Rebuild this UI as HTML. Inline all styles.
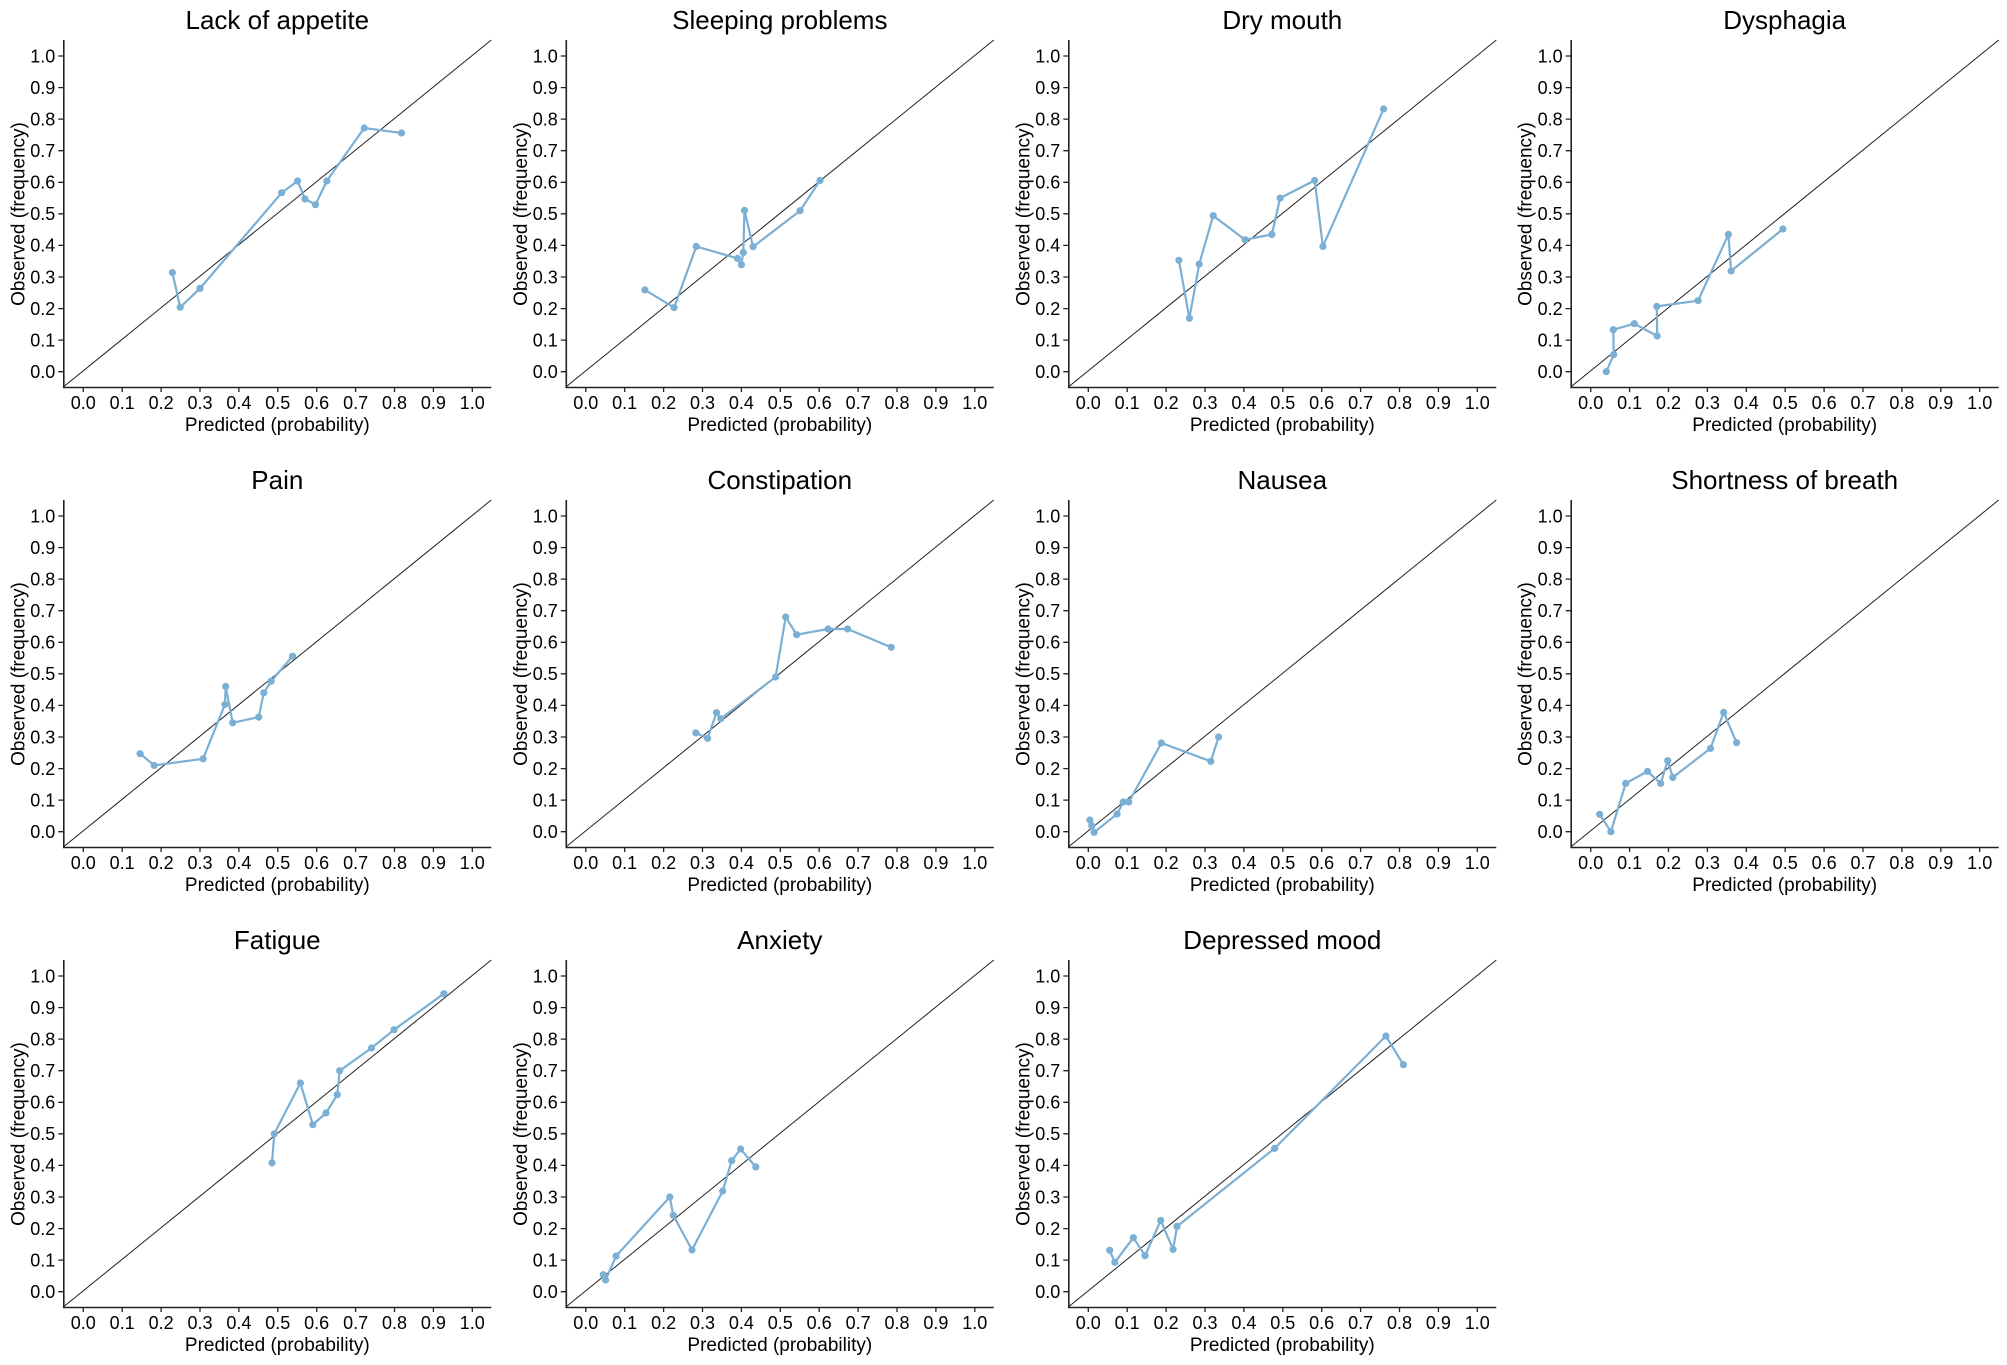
<!DOCTYPE html>
<html><head><meta charset="utf-8"><style>
html,body{margin:0;padding:0;background:#fff;}
svg{display:block;}
text{font-family:"Liberation Sans",Arial,sans-serif;fill:#000;}
.yt{font-size:18px;text-anchor:end;}
.xt{font-size:18px;text-anchor:middle;}
.xl{font-size:19px;text-anchor:middle;}
.ti{font-size:26px;text-anchor:middle;}
.s{fill:none;stroke:#7bafd4;stroke-width:2.2;stroke-linejoin:round;}
.p circle{fill:#7bafd4;}
</style></head><body>
<svg width="2007" height="1365" viewBox="0 0 2007 1365" xmlns="http://www.w3.org/2000/svg">
<defs>
<g id="ax">
<path d="M0.5,-347 V0.5 H428" fill="none" stroke="#222" stroke-width="1.6"/>
<path d="M0,0 L428,-347" stroke="#222" stroke-width="1" fill="none"/>
<path d="M-5,-15.3H0M-5,-46.9H0M-5,-78.4H0M-5,-110H0M-5,-141.6H0M-5,-173.2H0M-5,-204.7H0M-5,-236.3H0M-5,-267.9H0M-5,-299.4H0M-5,-331H0M20,0V5M58.9,0V5M97.8,0V5M136.7,0V5M175.6,0V5M214.5,0V5M253.4,0V5M292.3,0V5M331.2,0V5M370.1,0V5M409,0V5" stroke="#222" stroke-width="1.3"/>
</g>
</defs>

<!-- Panel 1 -->
<g transform="translate(63.3,387)">
<use href="#ax"/>
<text class="ti" x="214" y="-358">Lack of appetite</text>
<text class="yt"><tspan x="-8" y="-9">0.0</tspan><tspan x="-8" y="-40.6">0.1</tspan><tspan x="-8" y="-72.1">0.2</tspan><tspan x="-8" y="-103.7">0.3</tspan><tspan x="-8" y="-135.3">0.4</tspan><tspan x="-8" y="-166.9">0.5</tspan><tspan x="-8" y="-198.4">0.6</tspan><tspan x="-8" y="-230">0.7</tspan><tspan x="-8" y="-261.6">0.8</tspan><tspan x="-8" y="-293.1">0.9</tspan><tspan x="-8" y="-324.7">1.0</tspan></text>
<text class="xt"><tspan x="20" y="22">0.0</tspan><tspan x="58.9" y="22">0.1</tspan><tspan x="97.8" y="22">0.2</tspan><tspan x="136.7" y="22">0.3</tspan><tspan x="175.6" y="22">0.4</tspan><tspan x="214.5" y="22">0.5</tspan><tspan x="253.4" y="22">0.6</tspan><tspan x="292.3" y="22">0.7</tspan><tspan x="331.2" y="22">0.8</tspan><tspan x="370.1" y="22">0.9</tspan><tspan x="409" y="22">1.0</tspan></text>
<text class="xl" x="214" y="44">Predicted (probability)</text>
<text class="xl" transform="translate(-39,-173) rotate(-90)">Observed (frequency)</text>
<polyline class="s" points="109.1,-114.4 116.9,-79.7 136.7,-98.6 218.4,-194.3 234.3,-206 241.7,-188 252.2,-182.3 263.5,-206 300.9,-259 338.2,-254"/>
<g class="p"><circle cx="109.1" cy="-114.4" r="3.6"/><circle cx="116.9" cy="-79.7" r="3.6"/><circle cx="136.7" cy="-98.6" r="3.6"/><circle cx="218.4" cy="-194.3" r="3.6"/><circle cx="234.3" cy="-206" r="3.6"/><circle cx="241.7" cy="-188" r="3.6"/><circle cx="252.2" cy="-182.3" r="3.6"/><circle cx="263.5" cy="-206" r="3.6"/><circle cx="300.9" cy="-259" r="3.6"/><circle cx="338.2" cy="-254" r="3.6"/></g>
</g>

<!-- Panel 2 -->
<g transform="translate(565.8,387)">
<use href="#ax"/>
<text class="ti" x="214" y="-358">Sleeping problems</text>
<text class="yt"><tspan x="-8" y="-9">0.0</tspan><tspan x="-8" y="-40.6">0.1</tspan><tspan x="-8" y="-72.1">0.2</tspan><tspan x="-8" y="-103.7">0.3</tspan><tspan x="-8" y="-135.3">0.4</tspan><tspan x="-8" y="-166.9">0.5</tspan><tspan x="-8" y="-198.4">0.6</tspan><tspan x="-8" y="-230">0.7</tspan><tspan x="-8" y="-261.6">0.8</tspan><tspan x="-8" y="-293.1">0.9</tspan><tspan x="-8" y="-324.7">1.0</tspan></text>
<text class="xt"><tspan x="20" y="22">0.0</tspan><tspan x="58.9" y="22">0.1</tspan><tspan x="97.8" y="22">0.2</tspan><tspan x="136.7" y="22">0.3</tspan><tspan x="175.6" y="22">0.4</tspan><tspan x="214.5" y="22">0.5</tspan><tspan x="253.4" y="22">0.6</tspan><tspan x="292.3" y="22">0.7</tspan><tspan x="331.2" y="22">0.8</tspan><tspan x="370.1" y="22">0.9</tspan><tspan x="409" y="22">1.0</tspan></text>
<text class="xl" x="214" y="44">Predicted (probability)</text>
<text class="xl" transform="translate(-39,-173) rotate(-90)">Observed (frequency)</text>
<polyline class="s" points="79.1,-97.1 108.3,-79.4 130.5,-140.6 171.7,-128.6 175.6,-122.3 177.5,-134.6 178.7,-176.6 187.3,-140.3 234.3,-176.3 254.2,-206.6"/>
<g class="p"><circle cx="79.1" cy="-97.1" r="3.6"/><circle cx="108.3" cy="-79.4" r="3.6"/><circle cx="130.5" cy="-140.6" r="3.6"/><circle cx="171.7" cy="-128.6" r="3.6"/><circle cx="175.6" cy="-122.3" r="3.6"/><circle cx="177.5" cy="-134.6" r="3.6"/><circle cx="178.7" cy="-176.6" r="3.6"/><circle cx="187.3" cy="-140.3" r="3.6"/><circle cx="234.3" cy="-176.3" r="3.6"/><circle cx="254.2" cy="-206.6" r="3.6"/></g>
</g>

<!-- Panel 3 -->
<g transform="translate(1068.3,387)">
<use href="#ax"/>
<text class="ti" x="214" y="-358">Dry mouth</text>
<text class="yt"><tspan x="-8" y="-9">0.0</tspan><tspan x="-8" y="-40.6">0.1</tspan><tspan x="-8" y="-72.1">0.2</tspan><tspan x="-8" y="-103.7">0.3</tspan><tspan x="-8" y="-135.3">0.4</tspan><tspan x="-8" y="-166.9">0.5</tspan><tspan x="-8" y="-198.4">0.6</tspan><tspan x="-8" y="-230">0.7</tspan><tspan x="-8" y="-261.6">0.8</tspan><tspan x="-8" y="-293.1">0.9</tspan><tspan x="-8" y="-324.7">1.0</tspan></text>
<text class="xt"><tspan x="20" y="22">0.0</tspan><tspan x="58.9" y="22">0.1</tspan><tspan x="97.8" y="22">0.2</tspan><tspan x="136.7" y="22">0.3</tspan><tspan x="175.6" y="22">0.4</tspan><tspan x="214.5" y="22">0.5</tspan><tspan x="253.4" y="22">0.6</tspan><tspan x="292.3" y="22">0.7</tspan><tspan x="331.2" y="22">0.8</tspan><tspan x="370.1" y="22">0.9</tspan><tspan x="409" y="22">1.0</tspan></text>
<text class="xl" x="214" y="44">Predicted (probability)</text>
<text class="xl" transform="translate(-39,-173) rotate(-90)">Observed (frequency)</text>
<polyline class="s" points="110.6,-126.7 121.1,-68.7 130.9,-122.9 144.9,-171.3 176.8,-147.3 203.6,-152.6 211.8,-188.9 246.4,-206.6 254.6,-140.6 315.3,-278"/>
<g class="p"><circle cx="110.6" cy="-126.7" r="3.6"/><circle cx="121.1" cy="-68.7" r="3.6"/><circle cx="130.9" cy="-122.9" r="3.6"/><circle cx="144.9" cy="-171.3" r="3.6"/><circle cx="176.8" cy="-147.3" r="3.6"/><circle cx="203.6" cy="-152.6" r="3.6"/><circle cx="211.8" cy="-188.9" r="3.6"/><circle cx="246.4" cy="-206.6" r="3.6"/><circle cx="254.6" cy="-140.6" r="3.6"/><circle cx="315.3" cy="-278" r="3.6"/></g>
</g>

<!-- Panel 4 -->
<g transform="translate(1570.7,387)">
<use href="#ax"/>
<text class="ti" x="214" y="-358">Dysphagia</text>
<text class="yt"><tspan x="-8" y="-9">0.0</tspan><tspan x="-8" y="-40.6">0.1</tspan><tspan x="-8" y="-72.1">0.2</tspan><tspan x="-8" y="-103.7">0.3</tspan><tspan x="-8" y="-135.3">0.4</tspan><tspan x="-8" y="-166.9">0.5</tspan><tspan x="-8" y="-198.4">0.6</tspan><tspan x="-8" y="-230">0.7</tspan><tspan x="-8" y="-261.6">0.8</tspan><tspan x="-8" y="-293.1">0.9</tspan><tspan x="-8" y="-324.7">1.0</tspan></text>
<text class="xt"><tspan x="20" y="22">0.0</tspan><tspan x="58.9" y="22">0.1</tspan><tspan x="97.8" y="22">0.2</tspan><tspan x="136.7" y="22">0.3</tspan><tspan x="175.6" y="22">0.4</tspan><tspan x="214.5" y="22">0.5</tspan><tspan x="253.4" y="22">0.6</tspan><tspan x="292.3" y="22">0.7</tspan><tspan x="331.2" y="22">0.8</tspan><tspan x="370.1" y="22">0.9</tspan><tspan x="409" y="22">1.0</tspan></text>
<text class="xl" x="214" y="44">Predicted (probability)</text>
<text class="xl" transform="translate(-39,-173) rotate(-90)">Observed (frequency)</text>
<polyline class="s" points="35.6,-15.3 43,-32.3 42.6,-57.3 63.6,-63.3 86.5,-51 86.1,-80.6 127.4,-86.3 157.7,-152.6 160.4,-116 212.2,-158"/>
<g class="p"><circle cx="35.6" cy="-15.3" r="3.6"/><circle cx="43" cy="-32.3" r="3.6"/><circle cx="42.6" cy="-57.3" r="3.6"/><circle cx="63.6" cy="-63.3" r="3.6"/><circle cx="86.5" cy="-51" r="3.6"/><circle cx="86.1" cy="-80.6" r="3.6"/><circle cx="127.4" cy="-86.3" r="3.6"/><circle cx="157.7" cy="-152.6" r="3.6"/><circle cx="160.4" cy="-116" r="3.6"/><circle cx="212.2" cy="-158" r="3.6"/></g>
</g>

<!-- Panel 5 -->
<g transform="translate(63.3,847)">
<use href="#ax"/>
<text class="ti" x="214" y="-358">Pain</text>
<text class="yt"><tspan x="-8" y="-9">0.0</tspan><tspan x="-8" y="-40.6">0.1</tspan><tspan x="-8" y="-72.1">0.2</tspan><tspan x="-8" y="-103.7">0.3</tspan><tspan x="-8" y="-135.3">0.4</tspan><tspan x="-8" y="-166.9">0.5</tspan><tspan x="-8" y="-198.4">0.6</tspan><tspan x="-8" y="-230">0.7</tspan><tspan x="-8" y="-261.6">0.8</tspan><tspan x="-8" y="-293.1">0.9</tspan><tspan x="-8" y="-324.7">1.0</tspan></text>
<text class="xt"><tspan x="20" y="22">0.0</tspan><tspan x="58.9" y="22">0.1</tspan><tspan x="97.8" y="22">0.2</tspan><tspan x="136.7" y="22">0.3</tspan><tspan x="175.6" y="22">0.4</tspan><tspan x="214.5" y="22">0.5</tspan><tspan x="253.4" y="22">0.6</tspan><tspan x="292.3" y="22">0.7</tspan><tspan x="331.2" y="22">0.8</tspan><tspan x="370.1" y="22">0.9</tspan><tspan x="409" y="22">1.0</tspan></text>
<text class="xl" x="214" y="44">Predicted (probability)</text>
<text class="xl" transform="translate(-39,-173) rotate(-90)">Observed (frequency)</text>
<polyline class="s" points="76.8,-93.3 90.8,-81.6 139.8,-88.2 161.6,-142.5 162.4,-160.5 169.4,-124.2 195.4,-129.9 200.5,-154.2 207.9,-165.9 229.3,-190.8"/>
<g class="p"><circle cx="76.8" cy="-93.3" r="3.6"/><circle cx="90.8" cy="-81.6" r="3.6"/><circle cx="139.8" cy="-88.2" r="3.6"/><circle cx="161.6" cy="-142.5" r="3.6"/><circle cx="162.4" cy="-160.5" r="3.6"/><circle cx="169.4" cy="-124.2" r="3.6"/><circle cx="195.4" cy="-129.9" r="3.6"/><circle cx="200.5" cy="-154.2" r="3.6"/><circle cx="207.9" cy="-165.9" r="3.6"/><circle cx="229.3" cy="-190.8" r="3.6"/></g>
</g>

<!-- Panel 6 -->
<g transform="translate(565.8,847)">
<use href="#ax"/>
<text class="ti" x="214" y="-358">Constipation</text>
<text class="yt"><tspan x="-8" y="-9">0.0</tspan><tspan x="-8" y="-40.6">0.1</tspan><tspan x="-8" y="-72.1">0.2</tspan><tspan x="-8" y="-103.7">0.3</tspan><tspan x="-8" y="-135.3">0.4</tspan><tspan x="-8" y="-166.9">0.5</tspan><tspan x="-8" y="-198.4">0.6</tspan><tspan x="-8" y="-230">0.7</tspan><tspan x="-8" y="-261.6">0.8</tspan><tspan x="-8" y="-293.1">0.9</tspan><tspan x="-8" y="-324.7">1.0</tspan></text>
<text class="xt"><tspan x="20" y="22">0.0</tspan><tspan x="58.9" y="22">0.1</tspan><tspan x="97.8" y="22">0.2</tspan><tspan x="136.7" y="22">0.3</tspan><tspan x="175.6" y="22">0.4</tspan><tspan x="214.5" y="22">0.5</tspan><tspan x="253.4" y="22">0.6</tspan><tspan x="292.3" y="22">0.7</tspan><tspan x="331.2" y="22">0.8</tspan><tspan x="370.1" y="22">0.9</tspan><tspan x="409" y="22">1.0</tspan></text>
<text class="xl" x="214" y="44">Predicted (probability)</text>
<text class="xl" transform="translate(-39,-173) rotate(-90)">Observed (frequency)</text>
<polyline class="s" points="130.1,-114.1 141.8,-108.7 150.7,-134.3 155,-128.3 209.8,-170 219.9,-230 230.8,-212.3 262.3,-218 281.8,-218 325.4,-199.7"/>
<g class="p"><circle cx="130.1" cy="-114.1" r="3.6"/><circle cx="141.8" cy="-108.7" r="3.6"/><circle cx="150.7" cy="-134.3" r="3.6"/><circle cx="155" cy="-128.3" r="3.6"/><circle cx="209.8" cy="-170" r="3.6"/><circle cx="219.9" cy="-230" r="3.6"/><circle cx="230.8" cy="-212.3" r="3.6"/><circle cx="262.3" cy="-218" r="3.6"/><circle cx="281.8" cy="-218" r="3.6"/><circle cx="325.4" cy="-199.7" r="3.6"/></g>
</g>

<!-- Panel 7 -->
<g transform="translate(1068.3,847)">
<use href="#ax"/>
<text class="ti" x="214" y="-358">Nausea</text>
<text class="yt"><tspan x="-8" y="-9">0.0</tspan><tspan x="-8" y="-40.6">0.1</tspan><tspan x="-8" y="-72.1">0.2</tspan><tspan x="-8" y="-103.7">0.3</tspan><tspan x="-8" y="-135.3">0.4</tspan><tspan x="-8" y="-166.9">0.5</tspan><tspan x="-8" y="-198.4">0.6</tspan><tspan x="-8" y="-230">0.7</tspan><tspan x="-8" y="-261.6">0.8</tspan><tspan x="-8" y="-293.1">0.9</tspan><tspan x="-8" y="-324.7">1.0</tspan></text>
<text class="xt"><tspan x="20" y="22">0.0</tspan><tspan x="58.9" y="22">0.1</tspan><tspan x="97.8" y="22">0.2</tspan><tspan x="136.7" y="22">0.3</tspan><tspan x="175.6" y="22">0.4</tspan><tspan x="214.5" y="22">0.5</tspan><tspan x="253.4" y="22">0.6</tspan><tspan x="292.3" y="22">0.7</tspan><tspan x="331.2" y="22">0.8</tspan><tspan x="370.1" y="22">0.9</tspan><tspan x="409" y="22">1.0</tspan></text>
<text class="xl" x="214" y="44">Predicted (probability)</text>
<text class="xl" transform="translate(-39,-173) rotate(-90)">Observed (frequency)</text>
<polyline class="s" points="21.6,-27 23.5,-21.3 25.8,-14.7 48.8,-33 55,-45 60.5,-45 93.1,-104 142.5,-85.7 150.3,-110"/>
<g class="p"><circle cx="21.6" cy="-27" r="3.6"/><circle cx="23.5" cy="-21.3" r="3.6"/><circle cx="25.8" cy="-14.7" r="3.6"/><circle cx="48.8" cy="-33" r="3.6"/><circle cx="55" cy="-45" r="3.6"/><circle cx="60.5" cy="-45" r="3.6"/><circle cx="93.1" cy="-104" r="3.6"/><circle cx="142.5" cy="-85.7" r="3.6"/><circle cx="150.3" cy="-110" r="3.6"/></g>
</g>

<!-- Panel 8 -->
<g transform="translate(1570.7,847)">
<use href="#ax"/>
<text class="ti" x="214" y="-358">Shortness of breath</text>
<text class="yt"><tspan x="-8" y="-9">0.0</tspan><tspan x="-8" y="-40.6">0.1</tspan><tspan x="-8" y="-72.1">0.2</tspan><tspan x="-8" y="-103.7">0.3</tspan><tspan x="-8" y="-135.3">0.4</tspan><tspan x="-8" y="-166.9">0.5</tspan><tspan x="-8" y="-198.4">0.6</tspan><tspan x="-8" y="-230">0.7</tspan><tspan x="-8" y="-261.6">0.8</tspan><tspan x="-8" y="-293.1">0.9</tspan><tspan x="-8" y="-324.7">1.0</tspan></text>
<text class="xt"><tspan x="20" y="22">0.0</tspan><tspan x="58.9" y="22">0.1</tspan><tspan x="97.8" y="22">0.2</tspan><tspan x="136.7" y="22">0.3</tspan><tspan x="175.6" y="22">0.4</tspan><tspan x="214.5" y="22">0.5</tspan><tspan x="253.4" y="22">0.6</tspan><tspan x="292.3" y="22">0.7</tspan><tspan x="331.2" y="22">0.8</tspan><tspan x="370.1" y="22">0.9</tspan><tspan x="409" y="22">1.0</tspan></text>
<text class="xl" x="214" y="44">Predicted (probability)</text>
<text class="xl" transform="translate(-39,-173) rotate(-90)">Observed (frequency)</text>
<polyline class="s" points="28.9,-32.7 40.2,-15.3 55,-63.6 76.8,-75.6 90,-63.6 97,-86.3 102.1,-69.6 139.8,-98.6 153,-134.6 165.9,-104.3"/>
<g class="p"><circle cx="28.9" cy="-32.7" r="3.6"/><circle cx="40.2" cy="-15.3" r="3.6"/><circle cx="55" cy="-63.6" r="3.6"/><circle cx="76.8" cy="-75.6" r="3.6"/><circle cx="90" cy="-63.6" r="3.6"/><circle cx="97" cy="-86.3" r="3.6"/><circle cx="102.1" cy="-69.6" r="3.6"/><circle cx="139.8" cy="-98.6" r="3.6"/><circle cx="153" cy="-134.6" r="3.6"/><circle cx="165.9" cy="-104.3" r="3.6"/></g>
</g>

<!-- Panel 9 -->
<g transform="translate(63.3,1307)">
<use href="#ax"/>
<text class="ti" x="214" y="-358">Fatigue</text>
<text class="yt"><tspan x="-8" y="-9">0.0</tspan><tspan x="-8" y="-40.6">0.1</tspan><tspan x="-8" y="-72.1">0.2</tspan><tspan x="-8" y="-103.7">0.3</tspan><tspan x="-8" y="-135.3">0.4</tspan><tspan x="-8" y="-166.9">0.5</tspan><tspan x="-8" y="-198.4">0.6</tspan><tspan x="-8" y="-230">0.7</tspan><tspan x="-8" y="-261.6">0.8</tspan><tspan x="-8" y="-293.1">0.9</tspan><tspan x="-8" y="-324.7">1.0</tspan></text>
<text class="xt"><tspan x="20" y="22">0.0</tspan><tspan x="58.9" y="22">0.1</tspan><tspan x="97.8" y="22">0.2</tspan><tspan x="136.7" y="22">0.3</tspan><tspan x="175.6" y="22">0.4</tspan><tspan x="214.5" y="22">0.5</tspan><tspan x="253.4" y="22">0.6</tspan><tspan x="292.3" y="22">0.7</tspan><tspan x="331.2" y="22">0.8</tspan><tspan x="370.1" y="22">0.9</tspan><tspan x="409" y="22">1.0</tspan></text>
<text class="xl" x="214" y="44">Predicted (probability)</text>
<text class="xl" transform="translate(-39,-173) rotate(-90)">Observed (frequency)</text>
<polyline class="s" points="208.7,-144.1 211,-173.2 237.1,-224 249.5,-182.3 262.7,-194 274,-212.3 276.4,-236.3 308.2,-259 330.8,-277.3 380.6,-313.3"/>
<g class="p"><circle cx="208.7" cy="-144.1" r="3.6"/><circle cx="211" cy="-173.2" r="3.6"/><circle cx="237.1" cy="-224" r="3.6"/><circle cx="249.5" cy="-182.3" r="3.6"/><circle cx="262.7" cy="-194" r="3.6"/><circle cx="274" cy="-212.3" r="3.6"/><circle cx="276.4" cy="-236.3" r="3.6"/><circle cx="308.2" cy="-259" r="3.6"/><circle cx="330.8" cy="-277.3" r="3.6"/><circle cx="380.6" cy="-313.3" r="3.6"/></g>
</g>

<!-- Panel 10 -->
<g transform="translate(565.8,1307)">
<use href="#ax"/>
<text class="ti" x="214" y="-358">Anxiety</text>
<text class="yt"><tspan x="-8" y="-9">0.0</tspan><tspan x="-8" y="-40.6">0.1</tspan><tspan x="-8" y="-72.1">0.2</tspan><tspan x="-8" y="-103.7">0.3</tspan><tspan x="-8" y="-135.3">0.4</tspan><tspan x="-8" y="-166.9">0.5</tspan><tspan x="-8" y="-198.4">0.6</tspan><tspan x="-8" y="-230">0.7</tspan><tspan x="-8" y="-261.6">0.8</tspan><tspan x="-8" y="-293.1">0.9</tspan><tspan x="-8" y="-324.7">1.0</tspan></text>
<text class="xt"><tspan x="20" y="22">0.0</tspan><tspan x="58.9" y="22">0.1</tspan><tspan x="97.8" y="22">0.2</tspan><tspan x="136.7" y="22">0.3</tspan><tspan x="175.6" y="22">0.4</tspan><tspan x="214.5" y="22">0.5</tspan><tspan x="253.4" y="22">0.6</tspan><tspan x="292.3" y="22">0.7</tspan><tspan x="331.2" y="22">0.8</tspan><tspan x="370.1" y="22">0.9</tspan><tspan x="409" y="22">1.0</tspan></text>
<text class="xl" x="214" y="44">Predicted (probability)</text>
<text class="xl" transform="translate(-39,-173) rotate(-90)">Observed (frequency)</text>
<polyline class="s" points="37.5,-32.3 39.8,-27 50.3,-51 104,-110 107.5,-91.7 126.2,-57 156.9,-116 165.9,-146.3 174.8,-158 190,-140"/>
<g class="p"><circle cx="37.5" cy="-32.3" r="3.6"/><circle cx="39.8" cy="-27" r="3.6"/><circle cx="50.3" cy="-51" r="3.6"/><circle cx="104" cy="-110" r="3.6"/><circle cx="107.5" cy="-91.7" r="3.6"/><circle cx="126.2" cy="-57" r="3.6"/><circle cx="156.9" cy="-116" r="3.6"/><circle cx="165.9" cy="-146.3" r="3.6"/><circle cx="174.8" cy="-158" r="3.6"/><circle cx="190" cy="-140" r="3.6"/></g>
</g>

<!-- Panel 11 -->
<g transform="translate(1068.3,1307)">
<use href="#ax"/>
<text class="ti" x="214" y="-358">Depressed mood</text>
<text class="yt"><tspan x="-8" y="-9">0.0</tspan><tspan x="-8" y="-40.6">0.1</tspan><tspan x="-8" y="-72.1">0.2</tspan><tspan x="-8" y="-103.7">0.3</tspan><tspan x="-8" y="-135.3">0.4</tspan><tspan x="-8" y="-166.9">0.5</tspan><tspan x="-8" y="-198.4">0.6</tspan><tspan x="-8" y="-230">0.7</tspan><tspan x="-8" y="-261.6">0.8</tspan><tspan x="-8" y="-293.1">0.9</tspan><tspan x="-8" y="-324.7">1.0</tspan></text>
<text class="xt"><tspan x="20" y="22">0.0</tspan><tspan x="58.9" y="22">0.1</tspan><tspan x="97.8" y="22">0.2</tspan><tspan x="136.7" y="22">0.3</tspan><tspan x="175.6" y="22">0.4</tspan><tspan x="214.5" y="22">0.5</tspan><tspan x="253.4" y="22">0.6</tspan><tspan x="292.3" y="22">0.7</tspan><tspan x="331.2" y="22">0.8</tspan><tspan x="370.1" y="22">0.9</tspan><tspan x="409" y="22">1.0</tspan></text>
<text class="xl" x="214" y="44">Predicted (probability)</text>
<text class="xl" transform="translate(-39,-173) rotate(-90)">Observed (frequency)</text>
<polyline class="s" points="41.4,-56.7 46.5,-44.7 65.1,-69.3 76.8,-51.3 92.4,-86.6 104.8,-57.6 108.7,-80.6 206.3,-158.6 317.6,-271 335.1,-242.3"/>
<g class="p"><circle cx="41.4" cy="-56.7" r="3.6"/><circle cx="46.5" cy="-44.7" r="3.6"/><circle cx="65.1" cy="-69.3" r="3.6"/><circle cx="76.8" cy="-51.3" r="3.6"/><circle cx="92.4" cy="-86.6" r="3.6"/><circle cx="104.8" cy="-57.6" r="3.6"/><circle cx="108.7" cy="-80.6" r="3.6"/><circle cx="206.3" cy="-158.6" r="3.6"/><circle cx="317.6" cy="-271" r="3.6"/><circle cx="335.1" cy="-242.3" r="3.6"/></g>
</g>
</svg>
</body></html>
